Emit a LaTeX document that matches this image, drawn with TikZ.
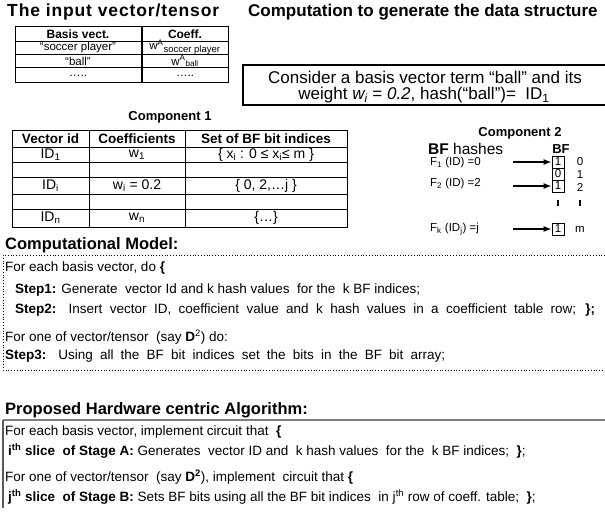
\documentclass[tikz,border=0pt]{standalone}
\usepackage{fontspec}
\setmainfont{Liberation Sans}
\usetikzlibrary{arrows.meta, positioning}

\tikzset{
  bigtitle/.style={font=\bfseries\fontsize{17.5}{20}\selectfont, anchor=west, inner sep=0pt},
  subtitle/.style={font=\bfseries\fontsize{13}{15}\selectfont, inner sep=0pt},
  sectitle/.style={font=\bfseries\fontsize{16.5}{18}\selectfont, anchor=west, inner sep=0pt},
  hdr/.style={font=\bfseries\fontsize{12}{14}\selectfont, inner sep=0pt},
  cell/.style={font=\fontsize{11.5}{13}\selectfont, inner sep=0pt},
  bigcell/.style={font=\fontsize{14}{16}\selectfont, inner sep=0pt},
  small/.style={font=\fontsize{11.5}{13}\selectfont, inner sep=0pt},
  line/.style={font=\fontsize{13.5}{15}\selectfont, anchor=west, inner sep=0pt},
  bitbox/.style={draw, line width=1pt, minimum size=12pt, inner sep=0pt, font=\fontsize{11.5}{13}\selectfont},
  grid/.style={line width=1pt},
  hasharrow/.style={-{Latex[length=8pt,width=6pt]}, line width=1.2pt},
}

\begin{document}
\begin{tikzpicture}[x=1pt, y=-1pt]
\useasboundingbox (0,0) rectangle (605,515);

% Titles
\node[bigtitle, font=\bfseries\fontsize{17.5}{20}\selectfont\addfontfeature{LetterSpace=5}] (tinput) at (7,12) {The input vector/tensor};
\node[bigtitle, font=\bfseries\fontsize{17}{20}\selectfont] (tcomp) at (248,12) {Computation to generate the data structure};

% Input table
\draw[grid] (15,26) rectangle (228,82);
\foreach \y in {41,54,67} \draw[grid] (15,\y) -- (228,\y);
\draw[line width=1.6pt] (142,26) -- (142,82);
\node[hdr] (hbasis) at (78,34) {Basis vect.};
\node[hdr] (hcoeff) at (185,34) {Coeff.};
\node[cell] (soccer) at (78,48) {“soccer player”};
\node[cell] (wsoccer) at (185,47) {w\textsuperscript{A}\textsubscript{\fontsize{9.5}{10}\selectfont soccer player}};
\node[cell] (ball) at (78,61) {“ball”};
\node[cell] (wball) at (185,61) {w\textsuperscript{A}\textsubscript{ball}};
\node[cell] (dots1) at (78,76) {…..};
\node[cell] (dots2) at (185,76) {…..};

% Example term
\draw[line width=1.2pt] (605,65) -- (243,65) -- (243,105) -- (605,105);
\node[font=\fontsize{17}{19}\selectfont, inner sep=0pt] (cons1) at (425,77) {Consider a basis vector term “ball” and its};
\node[font=\fontsize{17}{19}\selectfont, inner sep=0pt] (cons2) at (424,95.5) {weight \textit{w\textsubscript{i}} = \textit{0.2}, hash(“ball”)=\ \ ID\textsubscript{1}};

% Component 1
\node[subtitle] (comp1) at (170,117) {Component 1};
\draw[grid] (12,130) rectangle (347,227);
\foreach \y in {147,162,177,194,209} \draw[grid] (12,\y) -- (347,\y);
\foreach \x in {89,185} \draw[grid] (\x,130) -- (\x,227);
\node[hdr, font=\bfseries\fontsize{13.5}{15}\selectfont] (hvid) at (50.5,138.5) {Vector id};
\node[hdr, font=\bfseries\fontsize{13.5}{15}\selectfont] (hcoefs) at (137,138.5) {Coefficients};
\node[hdr, font=\bfseries\fontsize{13.5}{15}\selectfont] (hset) at (266,138.5) {Set of BF bit indices};
\node[bigcell] (id1) at (50.5,154.5) {ID\textsubscript{1}};
\node[bigcell] (w1) at (137,154.5) {w\textsubscript{1}};
\node[bigcell] (set1) at (266,154.5) {\{ x\textsubscript{i} : 0 ≤ x\textsubscript{i}≤ m \}};
\node[bigcell] (idi) at (50.5,185.5) {ID\textsubscript{i}};
\node[bigcell] (wi) at (137,185.5) {w\textsubscript{i} = 0.2};
\node[bigcell] (seti) at (266,185.5) {\{ 0, 2,…j \}};
\node[bigcell] (idn) at (50.5,218) {ID\textsubscript{n}};
\node[bigcell] (wn) at (137,218) {w\textsubscript{n}};
\node[bigcell] (setn) at (266,218) {\{…\}};

% Component 2
\node[subtitle] (comp2) at (520,133) {Component 2};
\node[font=\fontsize{15.5}{17}\selectfont, anchor=west, inner sep=0pt] (hashes) at (428,149) {\textbf{BF} hashes};
\node[hdr, font=\bfseries\fontsize{13}{15}\selectfont] (bftitle) at (561,149) {BF};
\node[bitbox] (b0) at (558,162) {1};
\node[bitbox] (b1) at (558,174) {0};
\node[bitbox] (b2) at (558,186) {1};
\node[bitbox] (bm) at (558,229) {1};
\node[small] (i0) at (580,162) {0};
\node[small] (i1) at (580,175) {1};
\node[small] (i2) at (580,187) {2};
\node[small] (im) at (580,229) {m};
\draw[line width=1.2pt] (558,200) -- (558,206);
\draw[line width=1.2pt] (580,200) -- (580,206);
\node[small, anchor=west] (f1) at (430,163) {F\textsubscript{1} (ID) =0};
\node[small, anchor=west] (f2) at (430,184) {F\textsubscript{2} (ID) =2};
\node[small, anchor=west] (fk) at (430,229) {F\textsubscript{k} (ID\textsubscript{j}) =j};
\coordinate (a0) at (513,162);
\coordinate (a2) at (513,186);
\coordinate (am) at (513,229);
\draw[hasharrow] (a0) -- (b0);
\draw[hasharrow] (a2) -- (b2);
\draw[hasharrow] (am) -- (bm);

% Computational model
\node[sectitle] (cmodel) at (5,245) {Computational Model:};
\draw[dotted, line width=0.8pt] (605,255) -- (3,255) -- (3,370) -- (605,370);
\node[line] (c1) at (5,268) {For each basis vector, do \textbf{\{}};
\node[line] (c2) at (15,290) {\textbf{Step1:} Generate\ \ vector Id and k hash values\ \ for the\ \ k BF indices;};
\node[line] (c3) at (15,310) {\makebox[580pt][s]{\textbf{Step2:} Insert vector ID, coefficient value and k hash values in a coefficient table row; \textbf{\};}}};
\node[line] (c4) at (5,337) {For one of vector/tensor\ \ (say \textbf{D}\textsuperscript{2}) do:};
\node[line] (c5) at (5,356) {\makebox[440pt][s]{\textbf{Step3:} Using all the BF bit indices set the bits in the BF bit array;}};

% Proposed hardware algorithm
\node[sectitle] (halgo) at (5,410) {Proposed Hardware centric Algorithm:};
\draw[gray, line width=1.5pt] (605,420) -- (3,420);
\draw[gray!70!black, line width=1.2pt] (3,420) -- (3,508);
\node[line] (p1) at (5,432) {For each basis vector, implement circuit that\ \ \textbf{\{}};
\node[line] (p2) at (8,451) {\textbf{i\textsuperscript{th} slice\ \ of Stage A:} Generates\ \ vector ID and\ \ k hash values\ \ for the\ \ k BF indices;\ \ \textbf{\}};};
\node[line] (p3) at (5,477) {For one of vector/tensor\ \ (say \textbf{D\textsuperscript{2}}), implement\ \ circuit that \textbf{\{}};
\node[line] (p4) at (8,497) {\textbf{j\textsuperscript{th} slice\ \ of Stage B:} Sets BF bits using all the BF bit indices\ \ in j\textsuperscript{th} row of coeff. table;\ \ \textbf{\}};};
\end{tikzpicture}
\end{document}
